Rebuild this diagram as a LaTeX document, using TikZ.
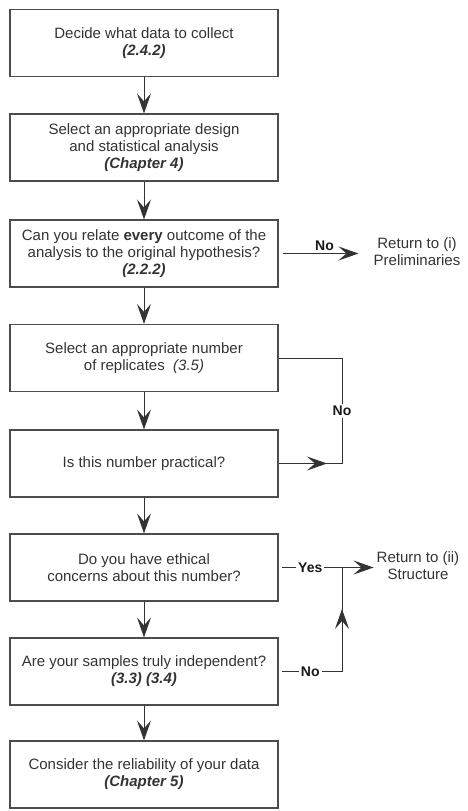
\documentclass[tikz,border=0pt]{standalone}
\usepackage{fontspec}
\setmainfont{Liberation Sans}
\usetikzlibrary{arrows.meta}

\begin{document}
\begin{tikzpicture}[x=1pt, y=-1pt,
		box/.style={draw=black!70, line width=1.1pt, rectangle, minimum width=268pt, minimum height=67pt, align=center, text=black!80, font=\fontsize{15}{17}\selectfont},
		flow/.style={draw=black!80, line width=1pt, -{Stealth[length=20pt, width=14pt, inset=8pt]}},
		link/.style={draw=black!80, line width=1pt},
		lbl/.style={fill=white, inner sep=2pt, text=black!90, font=\fontsize{14}{16}\selectfont\bfseries},
		side/.style={align=center, inner sep=3pt, text=black!80, font=\fontsize{15}{17}\selectfont}]
	\useasboundingbox (0,0) rectangle (467,811);
	
	\node[box] (collect) at (144, 43) {Decide what data to collect\\ \textbf{\textit{(2.4.2)}}};
	\node[box] (design) at (144, 147.5) {Select an appropriate design\\ and statistical analysis\\ \textbf{\textit{(Chapter 4)}}};
	\node[box] (relate) at (144, 253.5) {Can you relate \textbf{every} outcome of the\\ analysis to the original hypothesis?\\ \textbf{\textit{(2.2.2)}}};
	\node[box] (replicates) at (144, 358) {Select an appropriate number\\ of replicates\ \ \textit{(3.5)}};
	\node[box] (practical) at (144, 463.5) {Is this number practical?};
	\node[box] (ethical) at (144, 567.5) {Do you have ethical\\ concerns about this number?};
	\node[box] (independent) at (144, 671.5) {Are your samples truly independent?\\ \textbf{\textit{(3.3) (3.4)}}};
	\node[box] (reliability) at (144, 774.5) {Consider the reliability of your data\\ \textbf{\textit{(Chapter 5)}}};
	
	\node[side] (prelim) at (417, 252) {Return to (i)\\ Preliminaries};
	\node[side] (structure) at (418, 566) {Return to (ii)\\ Structure};
	
	\coordinate (loopB) at (342, 463.5);
	\coordinate (loopT) at (342, 358);
	\coordinate (tipR) at (327, 463.5);
	\coordinate (join) at (342, 567.5);
	\coordinate (noC) at (342, 671.5);
	\coordinate (tipU) at (342, 609);
	
	% main chain
	\draw[flow] (collect) -- (design);
	\draw[flow] (design) -- (relate);
	\draw[flow] (relate) -- (replicates);
	\draw[flow] (replicates) -- (practical);
	\draw[flow] (practical) -- (ethical);
	\draw[flow] (ethical) -- (independent);
	\draw[flow] (independent) -- (reliability);
	
	% side branches
	\draw[flow, shorten <=4pt, shorten >=12pt] (relate.east) -- node[above, lbl, fill=none]{No} (relate.east -| prelim.west);
	\draw[link] (practical.east) -- (loopB) -- node[lbl]{No} (loopT) -- (replicates.east);
	\draw[flow] (practical.east) -- (tipR);
	\draw[flow, shorten <=3pt] (ethical.east) -- node[lbl]{Yes} (join) -- (ethical.east -| structure.west);
	\draw[link, shorten <=3pt] (independent.east) -- node[lbl]{No} (noC) -- (join);
	\draw[flow] (noC) -- (tipU);
\end{tikzpicture}
\end{document}
